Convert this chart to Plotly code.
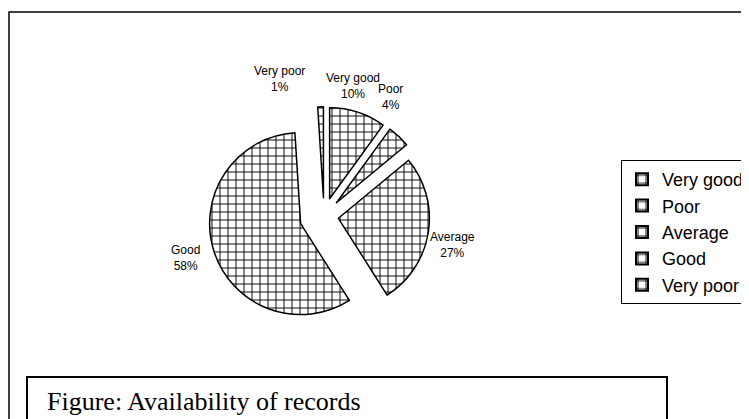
import plotly.graph_objects as go

# Data (clockwise from 12 o'clock)
categories = ["Very good", "Poor", "Average", "Good", "Very poor"]
values = [10, 4, 27, 58, 1]
pulls = [0.2, 0.2, 0.16, 0.27, 0.2]

W, H = 749, 419
OFF = 8  # page body margin of the html page


def px(x):
    return (x - OFF) / W


def py(y):
    return 1 - (y - OFF) / H


# pie centre and radius in page pixels
cx, cy, r = 324, 216, 91
half = r * (1 + max(pulls))

# where the data labels sit (page pixels, label centre)
label_pos = {
    "Very good": (353, 86),
    "Poor": (390, 97),
    "Average": (452, 245),
    "Good": (185, 258),
    "Very poor": (279, 79),
}

fig = go.Figure()

fig.add_trace(go.Pie(
    labels=categories,
    values=values,
    sort=False,
    direction="clockwise",
    rotation=0,
    pull=pulls,
    textinfo="none",
    marker=dict(
        colors=["white"] * len(categories),
        line=dict(color="#000000", width=1.5),
        pattern=dict(shape="+", size=8, solidity=0.22,
                     fgcolor="#000000", bgcolor="white", fillmode="replace"),
    ),
    domain=dict(x=[px(cx - half), px(cx + half)], y=[py(cy + half), py(cy - half)]),
    automargin=False,
))

total = sum(values)
for name, v in zip(categories, values):
    lx, ly = label_pos[name]
    fig.add_annotation(xref="paper", yref="paper", x=px(lx), y=py(ly),
                       xanchor="center", yanchor="middle", showarrow=False,
                       text=f"{name}<br>{v / total * 100:.0f}%",
                       font=dict(family="Liberation Sans, Arial", size=12, color="#000000"))

# outer frame
fig.add_shape(type="rect", xref="paper", yref="paper",
              x0=px(9), x1=1.05, y0=-0.05, y1=py(12),
              line=dict(color="#000000", width=1.5), layer="below")

# caption box
fig.add_shape(type="rect", xref="paper", yref="paper",
              x0=px(27), x1=px(667), y0=-0.05, y1=py(377),
              line=dict(color="#000000", width=2), fillcolor="white")
fig.add_annotation(xref="paper", yref="paper", x=px(45), y=py(401),
                   xanchor="left", yanchor="middle", showarrow=False,
                   text="Figure: Availability of records",
                   font=dict(family="Liberation Serif, Times New Roman", size=26, color="#000000"))

fig.update_layout(
    width=W, height=H,
    margin=dict(l=0, r=0, t=0, b=0, autoexpand=False),
    paper_bgcolor="white",
    plot_bgcolor="white",
    showlegend=True,
    legend=dict(
        x=px(621), y=py(160), xanchor="left", yanchor="top",
        bordercolor="#000000", borderwidth=1, bgcolor="white",
        font=dict(family="Liberation Sans, Arial", size=18, color="#000000"),
        tracegroupgap=0, itemsizing="constant",
    ),
)

fig.write_html("out.html")
